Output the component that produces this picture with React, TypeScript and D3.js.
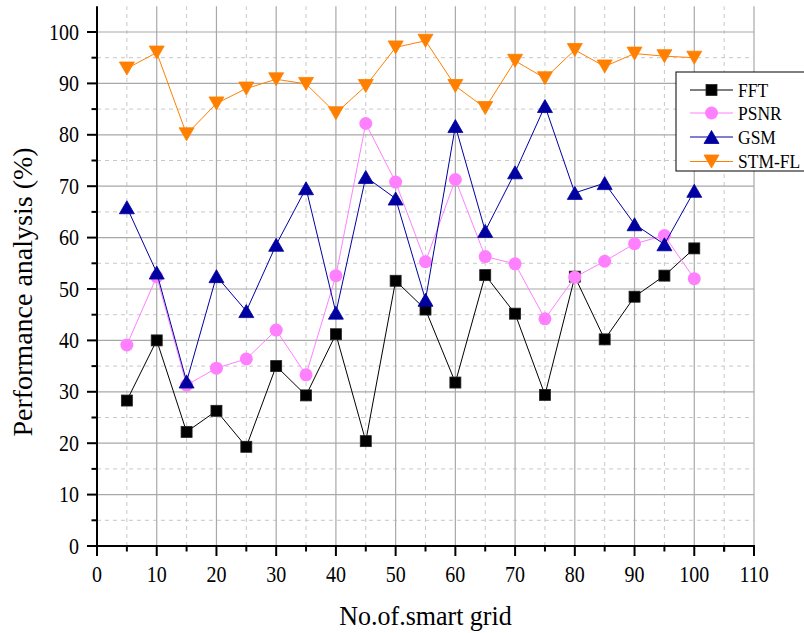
import React from "react";
import * as d3 from "d3";

const xValues = [5, 10, 15, 20, 25, 30, 35, 40, 45, 50, 55, 60, 65, 70, 75, 80, 85, 90, 95, 100];
const fft = [28.3, 40.0, 22.2, 26.3, 19.3, 35.0, 29.3, 41.2, 20.4, 51.6, 46.0, 31.8, 52.7, 45.2, 29.4, 52.4, 40.2, 48.5, 52.6, 57.9];
const psnr = [39.1, 52.4, 31.3, 34.6, 36.4, 42.0, 33.3, 52.6, 82.2, 70.8, 55.3, 71.3, 56.3, 54.9, 44.2, 52.3, 55.4, 58.8, 60.4, 52.0];
const gsm = [65.9, 53.2, 32.0, 52.5, 45.7, 58.6, 69.6, 45.4, 71.8, 67.6, 47.9, 81.7, 61.3, 72.7, 85.6, 68.7, 70.6, 62.6, 58.7, 69.1];
const stmfl = [92.9, 96.0, 80.1, 86.1, 89.0, 90.8, 89.9, 84.2, 89.5, 97.0, 98.3, 89.5, 85.2, 94.4, 91.0, 96.5, 93.3, 95.8, 95.3, 95.0];
const seriesNames = ["FFT", "PSNR", "GSM", "STM-FL"];
const xTicks = [0, 10, 20, 30, 40, 50, 60, 70, 80, 90, 100, 110];
const yTicks = [0, 10, 20, 30, 40, 50, 60, 70, 80, 90, 100];
const xTitle = "No.of.smart grid";
const yTitle = "Performance analysis (%)";

const FONT = "'Liberation Serif', 'Times New Roman', serif";

type Shape = "square" | "circle" | "up" | "down";
const seriesStyle: { color: string; shape: Shape }[] = [
  { color: "#000000", shape: "square" },
  { color: "#FF80FF", shape: "circle" },
  { color: "#0000A0", shape: "up" },
  { color: "#FF8000", shape: "down" },
];
const seriesData = [fft, psnr, gsm, stmfl];

function Marker({ shape, x, y, color }: { shape: Shape; x: number; y: number; color: string }) {
  if (shape === "square") {
    const s = 11;
    return <rect x={x - s / 2} y={y - s / 2} width={s} height={s} fill={color} stroke="#222" strokeWidth={0.8} />;
  }
  if (shape === "circle") {
    return <circle cx={x} cy={y} r={6.5} fill={color} />;
  }
  const w = 15, h = 13;
  if (shape === "up") {
    const p = `M${x},${y - h / 2} L${x + w / 2},${y + h / 2} L${x - w / 2},${y + h / 2} Z`;
    return <path d={p} fill={color} stroke={color} strokeWidth={0.8} />;
  }
  const p = `M${x},${y + h / 2} L${x + w / 2},${y - h / 2} L${x - w / 2},${y - h / 2} Z`;
  return <path d={p} fill={color} stroke={color} strokeWidth={0.8} />;
}

function SText({ x, y, size, anchor, sy, children, rotate }: { x: number; y: number; size: number; anchor: string; sy: number; children: React.ReactNode; rotate?: number }) {
  const t = rotate ? `translate(${x},${y}) rotate(${rotate}) scale(1,${sy})` : `translate(${x},${y}) scale(1,${sy})`;
  return (
    <text transform={t} textAnchor={anchor as any} fontSize={size} fill="#000">
      {children}
    </text>
  );
}

export default function App() {
  const W = 804, H = 633;
  const x = d3.scaleLinear().domain([0, 110]).range([97, 754]);
  const y = d3.scaleLinear().domain([0, 105]).range([546, 6.3]);
  const majorX = d3.range(10, 111, 10);
  const minorX = d3.range(5, 110, 10);
  const majorY = d3.range(10, 101, 10);
  const minorY = d3.range(5, 105, 10);
  const line = d3.line<number>().x((_, i) => x(xValues[i])).y((d) => y(d));

  const legendX = 676, legendY = 72, legendW = 130, legendH = 99;
  const legendRows = [90, 113, 137, 161.5];

  return (
    <svg width={W} height={H} style={{ position: "absolute", left: 0, top: 0, background: "#fff" }} fontFamily={FONT}>
      <rect x={0} y={0} width={W} height={H} fill="#fff" />
      {minorX.map((v) => (
        <line key={"mx" + v} x1={x(v)} x2={x(v)} y1={y(0)} y2={y(105)} stroke="#c8c8c8" strokeWidth={1} strokeDasharray="4,4" />
      ))}
      {minorY.map((v) => (
        <line key={"my" + v} x1={x(0)} x2={x(110)} y1={y(v)} y2={y(v)} stroke="#c8c8c8" strokeWidth={1} strokeDasharray="4,4" />
      ))}
      {majorX.map((v) => (
        <line key={"Mx" + v} x1={x(v)} x2={x(v)} y1={y(0)} y2={y(105)} stroke="#a8a8a8" strokeWidth={1.2} />
      ))}
      {majorY.map((v) => (
        <line key={"My" + v} x1={x(0)} x2={x(110)} y1={y(v)} y2={y(v)} stroke="#a8a8a8" strokeWidth={1.2} />
      ))}

      {seriesData.map((data, si) => (
        <g key={"s" + si}>
          <path d={line(data) || ""} fill="none" stroke={seriesStyle[si].color} strokeWidth={1} />
          {data.map((d, i) => (
            <Marker key={i} shape={seriesStyle[si].shape} x={x(xValues[i])} y={y(d)} color={seriesStyle[si].color} />
          ))}
        </g>
      ))}

      <line x1={x(0)} x2={x(0)} y1={y(0) + 1} y2={y(105)} stroke="#000" strokeWidth={2} />
      <line x1={x(0) - 1} x2={x(110) + 1} y1={y(0)} y2={y(0)} stroke="#000" strokeWidth={2} />
      {xTicks.map((v) => (
        <g key={"xt" + v}>
          <line x1={x(v)} x2={x(v)} y1={y(0)} y2={y(0) + 10} stroke="#000" strokeWidth={2} />
          <SText x={x(v)} y={582} size={20} sy={1.12} anchor="middle">{v}</SText>
        </g>
      ))}
      {minorX.concat([105]).map((v) => (
        <line key={"xmt" + v} x1={x(v)} x2={x(v)} y1={y(0)} y2={y(0) + 5.5} stroke="#000" strokeWidth={2} />
      ))}
      {yTicks.map((v) => (
        <g key={"yt" + v}>
          <line x1={x(0) - 10} x2={x(0)} y1={y(v)} y2={y(v)} stroke="#000" strokeWidth={2} />
          <SText x={79} y={y(v) + 7.5} size={20} sy={1.12} anchor="end">{v}</SText>
        </g>
      ))}
      {minorY.map((v) => (
        <line key={"ymt" + v} x1={x(0) - 5.5} x2={x(0)} y1={y(v)} y2={y(v)} stroke="#000" strokeWidth={2} />
      ))}

      <SText x={(x(0) + x(110)) / 2} y={625} size={26} sy={1.05} anchor="middle">{xTitle}</SText>
      <SText x={32} y={292} size={28} sy={1.0} anchor="middle" rotate={-90}>{yTitle}</SText>

      <rect x={legendX} y={legendY} width={legendW} height={legendH} fill="#fff" stroke="#000" strokeWidth={1} />
      {seriesNames.map((name, i) => (
        <g key={"lg" + i}>
          <line x1={690} x2={733} y1={legendRows[i]} y2={legendRows[i]} stroke={seriesStyle[i].color} strokeWidth={1} />
          <Marker shape={seriesStyle[i].shape} x={711.5} y={legendRows[i]} color={seriesStyle[i].color} />
          <SText x={738} y={legendRows[i] + 6.5} size={17.5} sy={1.12} anchor="start">{name}</SText>
        </g>
      ))}
    </svg>
  );
}
